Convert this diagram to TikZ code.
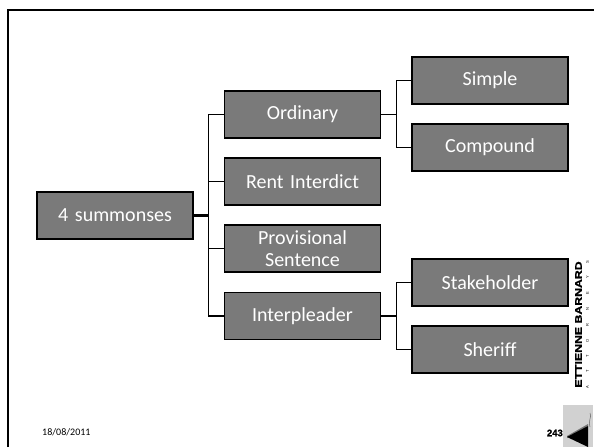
\documentclass[tikz,border=0pt]{standalone}
\usepackage{fontspec}
\setmainfont{Carlito}
\newfontfamily\logofont[UprightFont=* Bold,FakeBold=1.2]{Liberation Sans}
\newfontfamily\smallfont{Liberation Sans}
\usetikzlibrary{positioning}
\definecolor{boxgray}{HTML}{7A7A7A}
\tikzstyle{box} = [rectangle, minimum width=156pt, minimum height=47pt, inner sep=1pt, text centered, text width=152pt, draw=black, line width=1.4pt, fill=boxgray, text=white, font=\fontsize{20}{22.5}\selectfont]
\tikzstyle{link} = [line width=1.5pt, draw=black]
\tikzstyle{rootlink} = [line width=2.2pt, draw=black]
\begin{document}
\begin{tikzpicture}[x=1pt, y=1pt, node distance=67pt]
\useasboundingbox (0,0) rectangle (594,447);
% Slide frame
\draw [line width=2.5pt] (8,0) -- (8,437) -- (594,437);

% Placement of nodes
\node (root) [box] at (115,231.5) {4 summonses};
\node (ordinary) [box, right of=root, node distance=187.5pt, yshift=101pt] {Ordinary};
\node (rent) [box, below of=ordinary] {Rent Interdict};
\node (provisional) [box, below of=rent] {Provisional\\ Sentence};
\node (interpleader) [box, below of=provisional, yshift=-.5pt] {Interpleader};
\node (simple) [box, right of=ordinary, node distance=187.5pt, yshift=34pt] {Simple};
\node (compound) [box, below of=simple] {Compound};
\node (stakeholder) [box, right of=interpleader, node distance=187.5pt, yshift=33.5pt] {Stakeholder};
\node (sheriff) [box, below of=stakeholder] {Sheriff};

% Placement of edges
\draw [rootlink] (root.east) -- ++(15.5,0);
\draw [link] (ordinary.west) -| ([xshift=-15.5pt]interpleader.west) -- (interpleader.west)
	(rent.west) -- ++(-15.5,0) (provisional.west) -- ++(-15.5,0);
\draw [link] (ordinary.east) -- ++(15.5,0) |- (simple.west)
	(ordinary.east) ++(15.5,0) |- (compound.west);
\draw [link] (interpleader.east) -- ++(15.5,0) |- (stakeholder.west)
	(interpleader.east) ++(15.5,0) |- (sheriff.west);

% Footer and logo
\node (date) [anchor=west, inner sep=0pt, font=\fontsize{10}{12}\selectfont] at (42,15) {18/08/2011};
\node (page) [anchor=east, inner sep=0pt, font=\logofont\fontsize{9.5}{11}\selectfont] at (563,14) {243};
\node (firm) [rotate=90, xscale=1.28, inner sep=0pt, font=\logofont\fontsize{9.6}{11}\selectfont] at (578.5,122.5) {ETTIENNE BARNARD};
\node (attorneys) [rotate=90, inner sep=0pt, font=\smallfont\fontsize{4}{5}\selectfont] at (587.5,122.5) {\makebox[128pt][s]{A\hfil T\hfil T\hfil O\hfil R\hfil N\hfil E\hfil Y\hfil S}};
\fill [black!18] (563,0) rectangle (593,42);
\fill [black!55] (567,11) -- (588,23) -- (588,21) -- (567,9) -- cycle;
\fill [black] (567,10) -- (588,21) -- (588,0) -- cycle;
\draw [black!60, line width=.5pt] (590,34) .. controls (592,30) and (588,27) .. (590,20);
\end{tikzpicture}
\end{document}
